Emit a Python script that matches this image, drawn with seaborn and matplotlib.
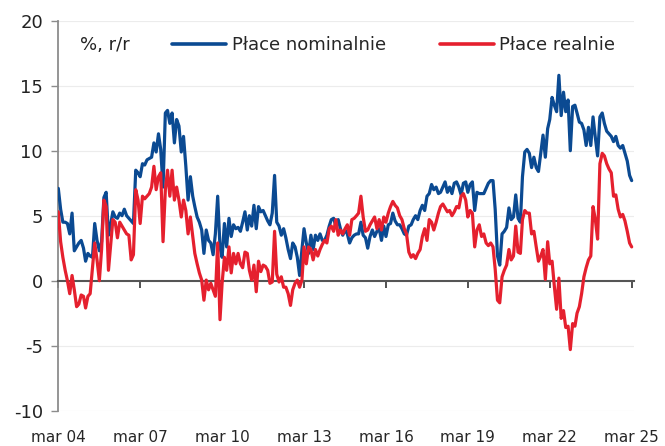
import numpy as np
import pandas as pd
import matplotlib
matplotlib.use("Agg")
import matplotlib.pyplot as plt
from matplotlib.lines import Line2D
import seaborn as sns

# Monthly y/y wage growth, Mar 2004 - Mar 2025 (%)
nominal = [
    7.1, 5.5, 4.5, 4.5, 4.4, 3.6, 5.2, 2.3, 2.6, 2.9, 3.1, 2.5, 1.5, 2.1, 1.9, 1.8,
    4.4, 3.1, 2.3, 3.0, 6.4, 6.8, 3.5, 4.4, 5.3, 4.9, 4.8, 5.2, 5.0, 5.5, 5.0, 4.8,
    4.6, 4.4, 8.5, 8.3, 8.0, 9.0, 8.9, 9.3, 9.4, 9.5, 10.6, 9.9, 11.3, 10.1, 7.2, 12.9,
    13.1, 12.1, 12.9, 10.6, 12.4, 11.9, 9.9, 11.1, 8.8, 6.2, 8.0, 6.5, 5.7, 4.9, 4.5, 3.9,
    2.1, 3.9, 3.1, 2.9, 2.0, 3.6, 6.5, 2.6, 1.8, 4.4, 2.6, 4.8, 3.4, 4.3, 4.0, 4.1,
    3.8, 4.5, 5.3, 3.9, 5.0, 4.2, 5.8, 4.0, 5.7, 5.3, 5.4, 5.0, 4.6, 4.3, 5.2, 8.1,
    4.5, 4.2, 3.5, 4.0, 3.3, 2.4, 1.7, 2.9, 2.6, 1.8, 0.4, 2.4, 4.0, 2.9, 2.1, 3.5,
    2.4, 3.5, 3.1, 3.6, 3.1, 3.1, 3.5, 4.2, 4.7, 4.8, 4.2, 4.7, 4.0, 3.5, 3.9, 3.6,
    2.9, 3.3, 3.5, 3.6, 3.6, 4.5, 3.5, 3.3, 2.5, 3.4, 3.9, 3.4, 3.8, 4.0, 3.1, 4.2,
    3.4, 4.3, 4.4, 5.2, 4.6, 4.3, 4.3, 4.0, 3.6, 3.5, 4.2, 4.3, 4.7, 5.0, 4.7, 5.4,
    5.8, 5.4, 6.5, 6.7, 7.4, 7.0, 7.2, 6.7, 6.8, 7.2, 7.6, 6.8, 7.2, 6.7, 7.5, 7.6,
    7.2, 6.6, 7.5, 7.6, 6.8, 7.4, 7.6, 5.4, 6.8, 6.7, 6.7, 6.7, 7.1, 7.5, 7.7, 7.7,
    5.5, 1.9, 1.2, 3.6, 3.8, 4.1, 5.6, 4.7, 4.9, 6.6, 4.8, 4.5, 8.0, 9.9, 10.1, 9.8,
    8.7, 9.5, 8.7, 8.4, 9.8, 11.2, 9.5, 11.7, 12.4, 14.1, 13.5, 13.0, 15.8, 12.7, 14.5, 13.0,
    13.9, 10.0, 13.4, 13.5, 12.9, 12.2, 12.1, 11.6, 10.4, 11.8, 10.4, 12.6, 11.0, 9.6, 12.6, 12.9,
    12.1, 11.5, 11.3, 11.1, 10.7, 11.1, 10.4, 10.2, 10.4, 9.8, 9.2, 8.1, 7.7,
]
real = [
    5.3, 3.0, 1.8, 0.8, 0.0, -1.0, 0.4, -0.7, -2.0, -1.8, -1.1, -1.2, -2.1, -1.2, -1.0, 1.0,
    2.9, 1.6, 0.0, 2.4, 6.2, 5.7, 0.8, 2.9, 4.7, 4.5, 3.3, 4.5, 4.2, 3.9, 3.6, 3.5,
    1.6, 2.0, 7.0, 6.2, 4.4, 6.5, 6.3, 6.5, 6.7, 7.2, 8.8, 7.0, 8.0, 8.3, 3.0, 7.0,
    8.5, 6.5, 8.5, 6.2, 7.2, 6.2, 4.9, 6.2, 5.4, 3.6, 4.9, 3.4, 2.1, 1.3, 0.6, 0.05,
    -1.5, 0.05, -0.7, -0.2, -0.7, -1.2, 2.9, -3.0, -0.2, 1.8, 0.8, 2.6, 0.6, 2.1, 1.3, 2.1,
    1.3, 1.0, 2.2, 2.1, 0.8, 0.05, 1.2, -0.85, 1.5, 0.7, 1.2, 1.1, 0.8, -0.2, -0.1, 3.8,
    0.5, -0.1, 0.3, -0.5, -0.5, -1.0, -1.9, -0.7, -0.2, 0.05, -0.5, 0.05, 2.6, 1.3, 2.6, 2.4,
    1.6, 2.4, 1.9, 2.4, 2.8, 3.1, 2.9, 4.0, 4.2, 3.8, 4.7, 3.5, 3.9, 3.6, 4.0, 4.3,
    3.5, 4.7, 4.8, 5.0, 5.2, 6.5, 4.9, 3.8, 3.9, 4.3, 4.6, 4.9, 4.0, 4.7, 3.9, 4.9,
    4.5, 5.2, 5.7, 6.1, 5.8, 5.6, 5.0, 4.7, 4.0, 3.6, 2.2, 1.8, 2.0, 1.7, 2.1, 2.4,
    3.4, 4.0, 3.1, 4.7, 4.5, 3.9, 4.5, 5.2, 5.7, 5.9, 5.6, 5.3, 5.4, 5.0, 5.3, 5.7,
    5.6, 6.5, 6.7, 6.2, 4.9, 5.4, 5.2, 2.6, 3.9, 4.3, 3.4, 3.6, 2.9, 2.7, 2.9, 2.6,
    0.9, -1.5, -1.7, 0.3, 0.8, 1.2, 2.4, 1.6, 1.9, 4.2, 2.2, 2.1, 4.7, 5.4, 5.2, 5.2,
    3.6, 3.8, 2.6, 1.5, 1.9, 2.4, 0.1, 3.0, 1.3, 1.5, -0.4, -2.2, 0.2, -2.9, -2.3, -3.6,
    -3.5, -5.3, -3.3, -3.5, -2.5, -2.0, -1.0, 0.3, 1.0, 1.6, 1.9, 5.7, 4.7, 3.2, 9.0, 9.8,
    9.6, 9.0, 8.6, 8.3, 6.5, 6.6, 5.5, 4.9, 5.1, 4.6, 3.8, 2.9, 2.6,
]
series_names = ["Płace nominalnie", "Płace realnie"]
tick_labels = ["mar 04", "mar 07", "mar 10", "mar 13", "mar 16", "mar 19", "mar 22", "mar 25"]
tick_years = [2004, 2007, 2010, 2013, 2016, 2019, 2022, 2025]
y_ticks = [-10, -5, 0, 5, 10, 15, 20]

colors = {"Płace nominalnie": "#0B4A92", "Płace realnie": "#E5202E"}

dates = pd.date_range("2004-03-01", periods=len(nominal), freq="MS")
df = pd.DataFrame({"data": dates, series_names[0]: nominal, series_names[1]: real[:len(nominal)]})
long = df.melt(id_vars="data", var_name="seria", value_name="wartosc")

sns.set_theme(style="white")
plt.rcParams["font.family"] = ["DejaVu Sans"]

fig = plt.figure(figsize=(6.65, 4.46), dpi=100)
W, H = 665, 446
left_px, right_px, top_px, bot_px = 58.3, 634.0, 20.7, 410.7
ax = fig.add_axes([left_px / W, 1 - bot_px / H, (right_px - left_px) / W, (bot_px - top_px) / H])

for yv in y_ticks:
    if yv != 0:
        ax.axhline(yv, color="#ececec", lw=0.8, zorder=0)

sns.lineplot(data=long, x="data", y="wartosc", hue="seria", palette=colors,
             linewidth=2.3, ax=ax, legend=False, zorder=3)

ax.set_ylim(-10, 20)
ax.set_xlim(pd.Timestamp("2004-03-01"), pd.Timestamp("2025-04-01"))
ax.set_yticks(y_ticks)
ax.set_yticklabels([str(v) for v in y_ticks], fontsize=13, color="#222222")
ax.set_xticks([pd.Timestamp(f"{y}-03-01") for y in tick_years])
ax.set_xticklabels(tick_labels, fontsize=13, color="#222222")
ax.set_xlabel("")
ax.set_ylabel("")

for s in ["top", "right"]:
    ax.spines[s].set_visible(False)
ax.spines["left"].set_color("#8c8c8c")
ax.spines["left"].set_linewidth(1.3)
ax.spines["bottom"].set_position(("data", 0))
ax.spines["bottom"].set_color("#555555")
ax.spines["bottom"].set_linewidth(1.5)
ax.tick_params(axis="y", direction="out", length=5, width=1.0, color="#8c8c8c", pad=6, left=True)
ax.tick_params(axis="x", direction="out", length=5, width=1.2, color="#333333", pad=102.5, bottom=True)

handles = [Line2D([0], [0], color=colors[n], lw=2.6) for n in series_names]
ax.legend(handles, series_names, loc="center left", bbox_to_anchor=(0.1975, 0.937),
          ncol=2, frameon=False, fontsize=13, handlelength=3.0, handletextpad=0.3,
          columnspacing=3.0, borderpad=0, borderaxespad=0)
ax.text(0.037, 0.937, "%, r/r", transform=ax.transAxes, fontsize=13, va="center", ha="left",
        color="#222222")

fig.savefig("out.png", dpi=100)
